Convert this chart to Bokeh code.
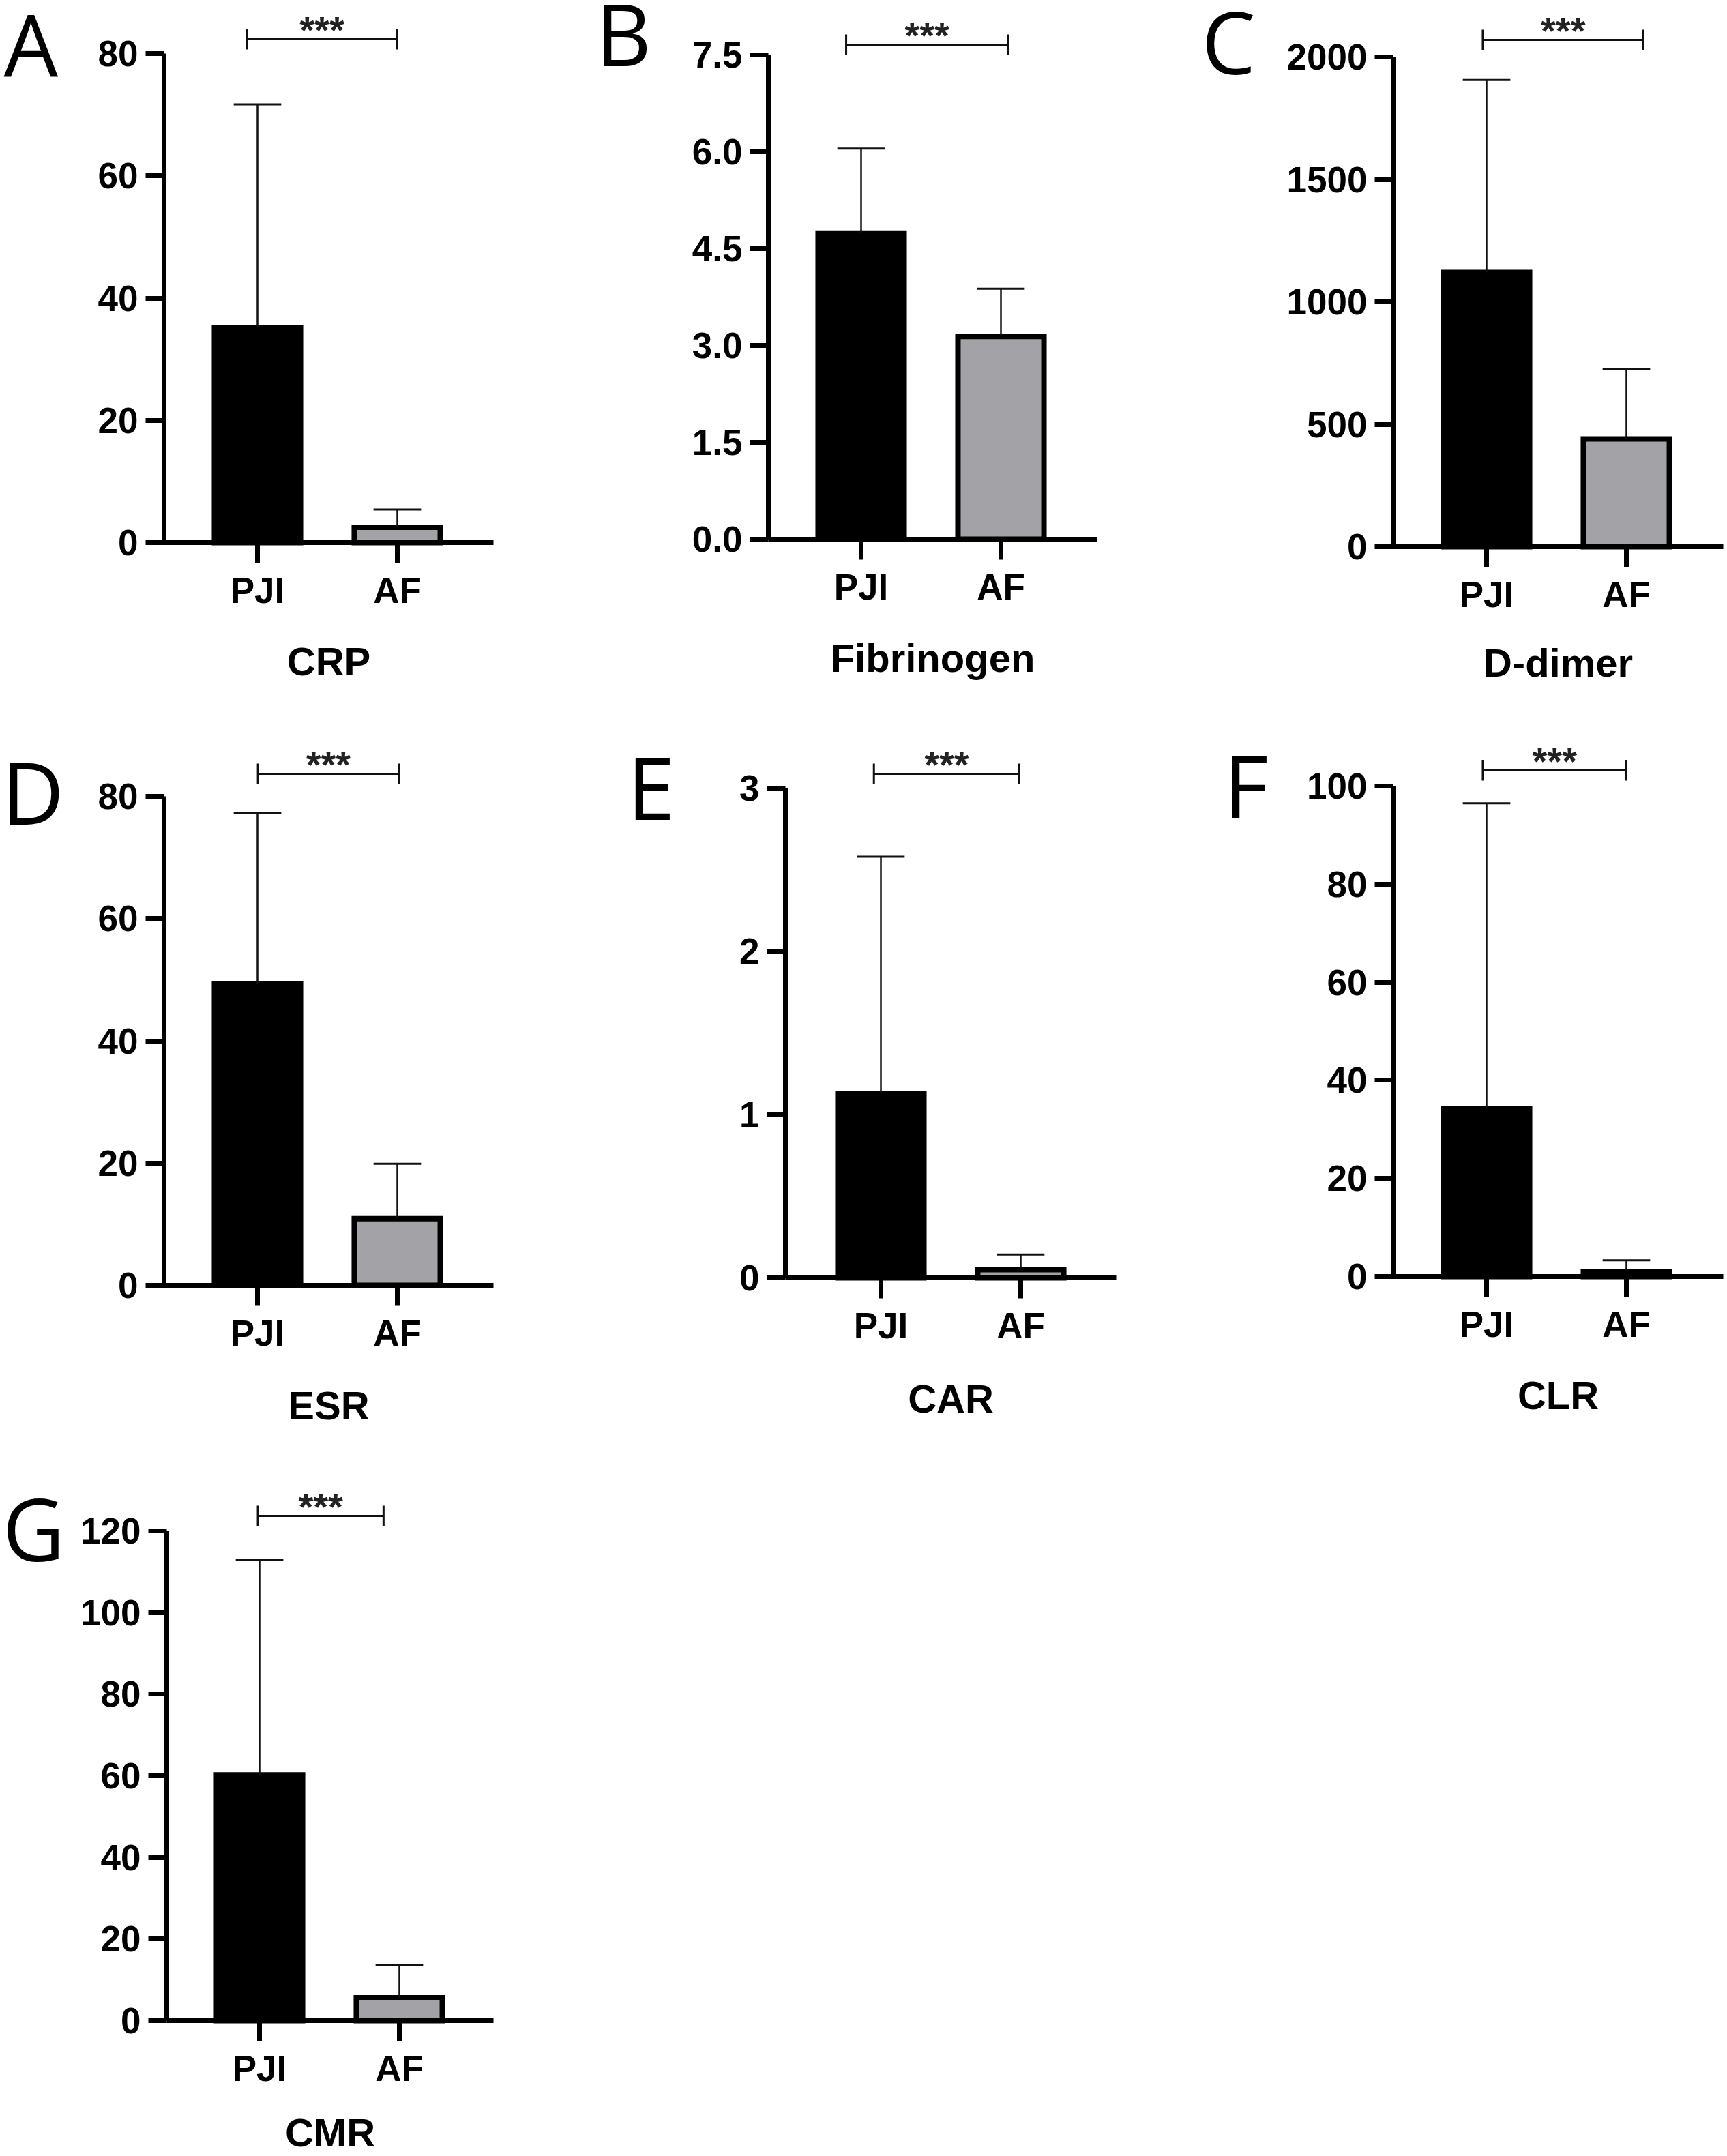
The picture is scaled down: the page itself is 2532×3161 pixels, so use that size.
from bokeh.plotting import figure
from bokeh.layouts import column, row
from bokeh.models import Range1d, FixedTicker, Label, ColumnDataSource
from bokeh.embed import file_html
from bokeh.resources import INLINE

# ---------------- data ----------------
groups = ["PJI", "AF"]
markers = ["CRP", "Fibrinogen", "D-dimer", "ESR", "CAR", "CLR", "CMR"]
panel_letters = ["A", "B", "C", "D", "E", "F", "G"]
mean_pji = [35.2, 4.74, 1120, 49.3, 1.13, 34.3, 60.2]
mean_af = [2.5, 3.14, 440, 10.9, 0.05, 1.0, 5.6]
upper_pji = [71.7, 6.05, 1906, 77.2, 2.58, 96.5, 112.9]   # mean + SD
upper_af = [5.4, 3.88, 726, 19.9, 0.143, 3.3, 13.6]       # mean + SD
y_max = [80, 7.5, 2000, 80, 3, 100, 120]
y_step = [20, 1.5, 500, 20, 1, 20, 20]
tick_fmt = ["{:.0f}", "{:.1f}", "{:.0f}", "{:.0f}", "{:.0f}", "{:.0f}", "{:.0f}"]
significance = ["***"] * 7

# ---------------- layout (reference pixel geometry) ----------------
COL_X = [0, 848, 1688, 2532]
ROW_Y = [0, 1048, 2098, 3161]
# ax: y-axis x, xe: x-axis end, zero/top: y of 0 and of top tick, pc: PJI centre,
# lx/lb: letter ink-left / baseline, lsb: letter side bearing,
# b0/b1: bracket ends (group units), bh: bracket px above top tick, tb: title px below 0
GEOM = [
    dict(c=0, r=0, ax=240, xe=723, zero=795, top=78, pc=377, lx=5, lb=108, lsb=0, b0=0.922, b1=2.0, bh=21, tb=198),
    dict(c=1, r=0, ax=1126, xe=1608, zero=790, top=80, pc=1262, lx=885, lb=92, lsb=12, b0=0.893, b1=2.049, bh=15, tb=198),
    dict(c=2, r=0, ax=2042, xe=2526, zero=801, top=83, pc=2179, lx=1769, lb=104, lsb=8, b0=0.973, b1=2.122, bh=25, tb=194),
    dict(c=0, r=1, ax=240, xe=723, zero=1884, top=1167, pc=377, lx=14, lb=1204, lsb=12, b0=1.003, b1=2.01, bh=33, tb=200),
    dict(c=1, r=1, ax=1151, xe=1636, zero=1873, top=1155, pc=1291, lx=931, lb=1197, lsb=12, b0=0.95, b1=1.99, bh=21, tb=201),
    dict(c=2, r=1, ax=2042, xe=2526, zero=1871, top=1152, pc=2179, lx=1806, lb=1194, lsb=12, b0=0.973, b1=2.0, bh=23, tb=198),
    dict(c=0, r=2, ax=244, xe=723, zero=2962, top=2244, pc=380, lx=11, lb=2284, lsb=8, b0=0.988, b1=1.887, bh=22, tb=188),
]

GRAY = "#a3a3a7"
FONT = "Liberation Sans"
PPX = 205.0   # px per group unit
LIFT = 0.41   # baseline correction for labels, in em
LETTER_LIFT = 0.35


def make_panel(i):
    g = GEOM[i]
    cx0, cx1 = COL_X[g["c"]], COL_X[g["c"] + 1]
    ry0, ry1 = ROW_Y[g["r"]], ROW_Y[g["r"] + 1]
    W, H = cx1 - cx0, ry1 - ry0
    ppy = (g["zero"] - g["top"]) / y_max[i]
    xL = 1 - (g["pc"] - cx0) / PPX
    xR = xL + W / PPX
    xa = 1 - (g["pc"] - g["ax"]) / PPX
    xend = min(1 - (g["pc"] - g["xe"]) / PPX, xR)
    yB = -(ry1 - g["zero"]) / ppy
    yT = (g["zero"] - ry0) / ppy

    p = figure(width=W, height=H, x_range=Range1d(xL, xR), y_range=Range1d(yB, yT),
               min_border=0, output_backend="svg", toolbar_location=None, tools="")
    p.outline_line_color = None
    p.xgrid.visible = False
    p.ygrid.visible = False
    p.background_fill_color = "white"
    p.border_fill_color = "white"

    for ax in (p.xaxis[0], p.yaxis[0]):
        ax.axis_line_width = 7
        ax.axis_line_color = "black"
        ax.major_tick_line_width = 7
        ax.major_tick_line_color = "black"
        ax.major_tick_in = 0
        ax.minor_tick_line_color = None
        ax.major_label_text_font = FONT
        ax.major_label_text_font_style = "bold"
        ax.major_label_text_color = "black"

    ticks = []
    v = 0.0
    while v <= y_max[i] + 1e-9:
        ticks.append(round(v, 6))
        v += y_step[i]
    p.yaxis.fixed_location = xa
    p.yaxis.ticker = FixedTicker(ticks=ticks)
    p.yaxis.major_label_overrides = {t: tick_fmt[i].format(t) for t in ticks}
    p.yaxis.bounds = (0, y_max[i])
    p.yaxis.major_tick_out = 27
    p.yaxis.major_label_standoff = 11
    p.yaxis.major_label_text_font_size = "53px"

    p.xaxis.fixed_location = 0
    p.xaxis.ticker = FixedTicker(ticks=[1, 2])
    p.xaxis.major_label_overrides = {1: groups[0], 2: groups[1]}
    p.xaxis.bounds = (xa, xend)
    p.xaxis.major_tick_out = 30
    p.xaxis.major_label_standoff = 10
    p.xaxis.major_label_text_font_size = "53px"

    src = ColumnDataSource(dict(x=[1, 2], top=[mean_pji[i], mean_af[i]],
                                up=[upper_pji[i], upper_af[i]],
                                fill=["black", GRAY]))
    p.vbar(x="x", top="top", bottom=0, width=0.615, fill_color="fill",
           line_color="black", line_width=8, line_join="miter", source=src)
    p.segment(x0="x", y0="top", x1="x", y1="up", line_color="#111111",
              line_width=2.5, source=src)
    cap = ColumnDataSource(dict(x0=[1 - 0.17, 2 - 0.17], x1=[1 + 0.17, 2 + 0.17],
                                y=[upper_pji[i], upper_af[i]]))
    p.segment(x0="x0", y0="y", x1="x1", y1="y", line_color="#111111",
              line_width=3, source=cap)

    # significance bracket
    by = y_max[i] + g["bh"] / ppy
    dy = 15 / ppy
    p.segment(x0=[g["b0"], g["b0"], g["b1"]], y0=[by, by - dy, by - dy],
              x1=[g["b1"], g["b0"], g["b1"]], y1=[by, by + dy, by + dy],
              line_color="#111111", line_width=3)
    p.add_layout(Label(x=(g["b0"] + g["b1"]) / 2, y=by, y_offset=-14 + 28,
                       text=significance[i], text_align="center",
                       text_baseline="alphabetic", text_font=FONT,
                       text_font_style="bold", text_font_size="56px",
                       text_color="#222222"))

    # panel letter
    p.add_layout(Label(x=xa, y=0, x_offset=g["lx"] - g["ax"] - g["lsb"],
                       y_offset=g["zero"] - g["lb"] + LETTER_LIFT * 126,
                       text=panel_letters[i],
                       text_align="left", text_baseline="alphabetic",
                       text_font="Open Sans", text_font_size="126px",
                       text_color="black"))

    # marker title
    xc = 1 - (g["pc"] - (g["ax"] + g["xe"]) / 2) / PPX
    p.add_layout(Label(x=xc, y=0, y_offset=-g["tb"] + LIFT * 58, text=markers[i],
                       text_align="center", text_baseline="alphabetic",
                       text_font=FONT, text_font_style="bold",
                       text_font_size="58px", text_color="black"))
    return p


panels = [make_panel(i) for i in range(7)]
page = column(row(panels[0], panels[1], panels[2]),
              row(panels[3], panels[4], panels[5]),
              row(panels[6]))

open("out.html", "w").write(file_html(page, INLINE))
